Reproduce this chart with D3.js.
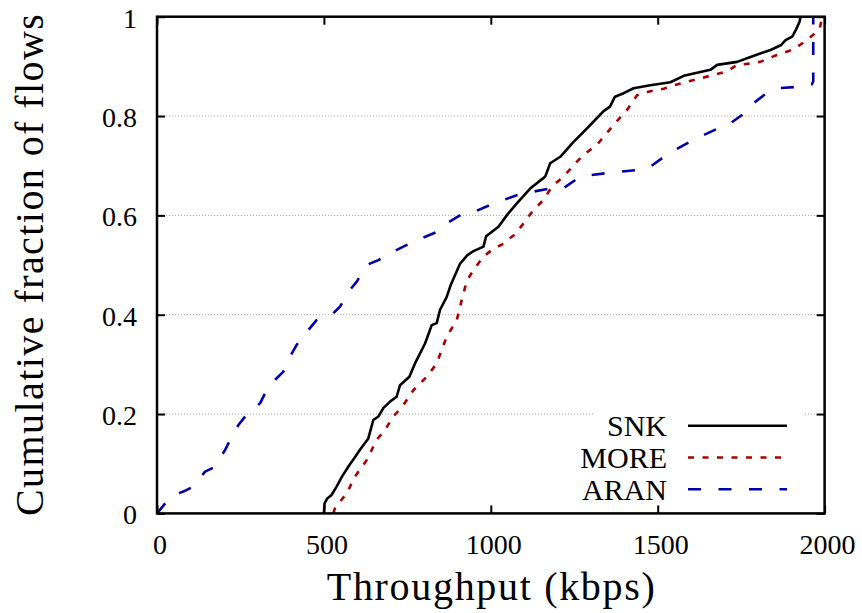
<!DOCTYPE html>
<html><head><meta charset="utf-8"><script src="https://cdn.jsdelivr.net/npm/d3@7"></script></head>
<body style="margin:0">
<script>
// ---- data ----
const seriesNames = ["SNK", "MORE", "ARAN"];
const xTicks = [0, 500, 1000, 1500, 2000];
const yTicks = [0, 0.2, 0.4, 0.6, 0.8, 1];
const yTickLabels = ["0", "0.2", "0.4", "0.6", "0.8", "1"];
const gridValues = [0.2, 0.4, 0.6, 0.8];

const snkX = [500, 502, 510, 523, 538, 555, 576, 595, 608, 633, 648, 663, 678, 698, 718, 728, 756, 773, 803, 823, 838, 848, 868, 880, 908, 930, 948, 978, 986, 1023, 1050, 1078, 1118, 1163, 1178, 1208, 1248, 1278, 1308, 1338, 1357, 1372, 1398, 1428, 1478, 1538, 1578, 1658, 1678, 1738, 1778, 1838, 1870, 1883, 1903, 1915, 1925, 1928];
const snkY = [0, 0.02, 0.03, 0.037, 0.054, 0.075, 0.097, 0.115, 0.128, 0.151, 0.188, 0.195, 0.212, 0.225, 0.235, 0.258, 0.275, 0.302, 0.342, 0.379, 0.383, 0.41, 0.436, 0.46, 0.503, 0.52, 0.528, 0.537, 0.558, 0.577, 0.602, 0.624, 0.654, 0.678, 0.705, 0.718, 0.748, 0.768, 0.789, 0.810, 0.819, 0.839, 0.846, 0.856, 0.862, 0.868, 0.881, 0.893, 0.903, 0.909, 0.919, 0.933, 0.943, 0.953, 0.960, 0.975, 0.99, 1.0];

const moreX = [528, 533, 550, 568, 593, 610, 628, 658, 683, 708, 738, 768, 808, 838, 853, 868, 898, 913, 928, 948, 978, 1008, 1033, 1053, 1073, 1098, 1128, 1158, 1183, 1218, 1248, 1278, 1318, 1343, 1378, 1408, 1428, 1438, 1478, 1518, 1548, 1628, 1708, 1738, 1767, 1807, 1857, 1907, 1947, 1977, 1985, 1993];
const moreY = [0, 0.010, 0.025, 0.040, 0.074, 0.09, 0.107, 0.148, 0.168, 0.195, 0.218, 0.248, 0.275, 0.302, 0.329, 0.356, 0.389, 0.430, 0.468, 0.490, 0.517, 0.533, 0.541, 0.552, 0.562, 0.584, 0.611, 0.631, 0.658, 0.678, 0.701, 0.722, 0.742, 0.762, 0.790, 0.812, 0.832, 0.842, 0.850, 0.855, 0.862, 0.876, 0.890, 0.903, 0.905, 0.909, 0.923, 0.934, 0.953, 0.970, 0.975, 1.0];

const aranX = [0, 4, 29, 50, 79, 109, 144, 174, 204, 219, 244, 264, 309, 324, 354, 378, 404, 418, 453, 478, 528, 548, 578, 598, 628, 663, 708, 738, 768, 793, 843, 868, 918, 950, 1008, 1038, 1093, 1128, 1178, 1218, 1268, 1298, 1357, 1447, 1478, 1527, 1552, 1607, 1632, 1687, 1717, 1767, 1787, 1832, 1862, 1922, 1962, 1966, 1966];
const aranY = [0, 0.003, 0.024, 0.037, 0.044, 0.054, 0.084, 0.094, 0.128, 0.148, 0.178, 0.195, 0.222, 0.242, 0.269, 0.285, 0.322, 0.339, 0.369, 0.389, 0.403, 0.416, 0.45, 0.466, 0.500, 0.510, 0.527, 0.537, 0.547, 0.554, 0.568, 0.584, 0.604, 0.607, 0.624, 0.631, 0.644, 0.648, 0.654, 0.655, 0.678, 0.681, 0.686, 0.692, 0.698, 0.722, 0.732, 0.752, 0.760, 0.777, 0.785, 0.809, 0.826, 0.849, 0.856, 0.859, 0.864, 0.87, 1.0];

const xTitle = "Throughput (kbps)";
const yTitle = "Cumulative fraction of flows";

// ---- layout ----
const FONT = "'Liberation Serif'";
const svg = d3.select("body").append("svg").attr("width", 862).attr("height", 613)
  .style("display", "block");
const pL = 157, pR = 824.6, pT = 16.7, pB = 513.4;
const x = d3.scaleLinear().domain([0, 2000]).range([pL, pR]);
const y = d3.scaleLinear().domain([0, 1]).range([pB, pT]);

function serif(sel, size) {
  return sel.attr("font-family", "Liberation Serif")
    .style("font-family", FONT, "important")
    .style("font-size", size + "px", "important");
}

svg.append("rect").attr("width", 862).attr("height", 613).attr("fill", "#fff");

// grid
svg.append("g").selectAll("line").data(gridValues).join("line")
  .attr("x1", pL).attr("x2", pR)
  .attr("y1", d => y(d)).attr("y2", d => y(d))
  .attr("stroke", "#a0a0a0").attr("stroke-width", 1)
  .attr("stroke-dasharray", "1,2");

// series
const series = [
  { name: seriesNames[0], xs: snkX, ys: snkY, color: "#000000", dash: null },
  { name: seriesNames[1], xs: moreX, ys: moreY, color: "#a80000", dash: "6,8.5" },
  { name: seriesNames[2], xs: aranX, ys: aranY, color: "#0000a8", dash: "13,17.5" }
];
const line = d3.line().x(d => x(d[0])).y(d => y(d[1]));

// legend background (opaque key area)
svg.append("rect").attr("x", 593).attr("y", 404).attr("width", 212).attr("height", 102).attr("fill", "#fff");

series.forEach(s => {
  const pts = s.xs.map((v, i) => [v, s.ys[i]]);
  svg.append("path").datum(pts)
    .attr("d", line)
    .attr("fill", "none")
    .attr("stroke", s.color)
    .attr("stroke-width", 2.6)
    .attr("stroke-linejoin", "round")
    .attr("stroke-dasharray", s.dash);
});

// axes (ticks drawn by d3 axes, labels as plain text children of svg)
const tickLen = 8;
const gx = svg.append("g").attr("transform", `translate(0,${pB})`)
  .call(d3.axisBottom(x).tickValues(xTicks).tickSizeInner(-tickLen).tickSizeOuter(0).tickFormat(""));
const gy = svg.append("g").attr("transform", `translate(${pL},0)`)
  .call(d3.axisLeft(y).tickValues(yTicks).tickSizeInner(-tickLen).tickSizeOuter(0).tickFormat(""));
const gt = svg.append("g").attr("transform", `translate(0,${pT})`)
  .call(d3.axisTop(x).tickValues(xTicks).tickSizeInner(-tickLen).tickSizeOuter(0).tickFormat(""));
const gr = svg.append("g").attr("transform", `translate(${pR},0)`)
  .call(d3.axisRight(y).tickValues(yTicks).tickSizeInner(-tickLen).tickSizeOuter(0).tickFormat(""));
[gx, gy, gt, gr].forEach(g => {
  g.attr("font-family", null).attr("font-size", null);
  g.select(".domain").remove();
  g.selectAll(".tick text").remove();
  g.selectAll(".tick line").attr("stroke", "#000").attr("stroke-width", 2);
});

xTicks.forEach(v => {
  serif(svg.append("text"), 28).attr("x", x(v) + 3).attr("y", 554)
    .attr("text-anchor", "middle").attr("fill", "#000").text(String(v));
});
yTicks.forEach((v, i) => {
  serif(svg.append("text"), 28).attr("x", 137).attr("y", y(v) + 11)
    .attr("text-anchor", "end").attr("fill", "#000").text(yTickLabels[i]);
});

// frame
svg.append("rect").attr("x", pL).attr("y", pT)
  .attr("width", pR - pL).attr("height", pB - pT)
  .attr("fill", "none").attr("stroke", "#000").attr("stroke-width", 2.5);

// legend
const legendY = [425.7, 457.5, 489.3];
series.forEach((s, i) => {
  serif(svg.append("text"), 30).attr("x", 667).attr("y", legendY[i] + 10.5)
    .attr("text-anchor", "end").attr("fill", "#000").text(s.name);
  svg.append("line").attr("x1", 688).attr("x2", 787)
    .attr("y1", legendY[i]).attr("y2", legendY[i])
    .attr("stroke", s.color).attr("stroke-width", 2.6)
    .attr("stroke-dasharray", s.dash);
});

// titles
serif(svg.append("text"), 40).attr("x", (pL + pR) / 2).attr("y", 600)
  .attr("text-anchor", "middle").attr("fill", "#000")
  .attr("textLength", 328).attr("lengthAdjust", "spacing").text(xTitle);
serif(svg.append("text"), 40).attr("transform", `translate(43,${(pT + pB) / 2}) rotate(-90)`)
  .attr("text-anchor", "middle").attr("fill", "#000")
  .attr("textLength", 502).attr("lengthAdjust", "spacing").text(yTitle);
</script>
</body></html>
